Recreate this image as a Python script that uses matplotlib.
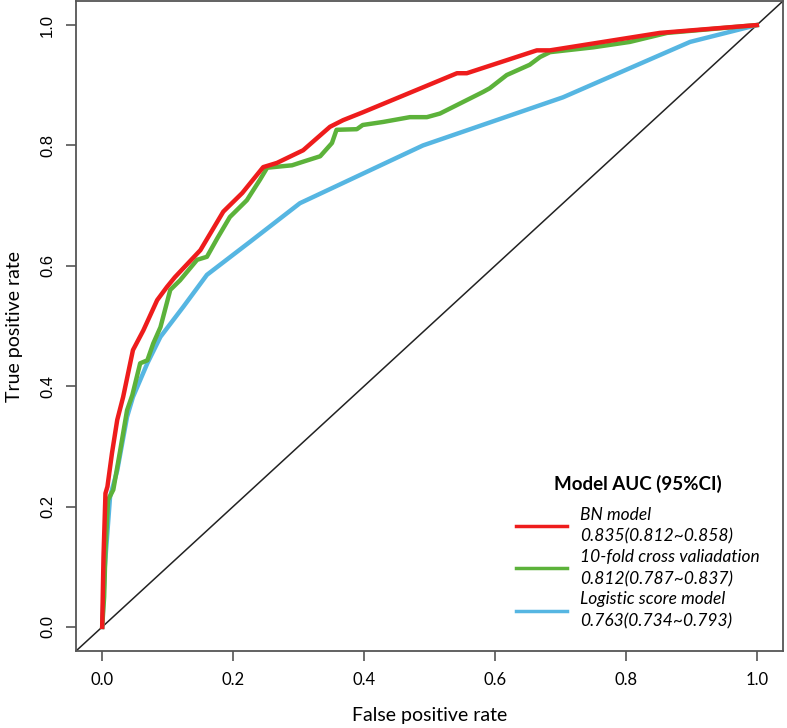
import numpy as np
import matplotlib.pyplot as plt
from matplotlib.lines import Line2D

# ROC curves
bn_fpr = [0, 0.002, 0.005, 0.008, 0.015, 0.023, 0.032, 0.047, 0.063, 0.084, 0.099,
          0.111, 0.15, 0.185, 0.214, 0.246, 0.267, 0.307, 0.348, 0.368, 0.398,
          0.542, 0.557, 0.664, 0.684, 0.852, 1.0]
bn_tpr = [0, 0.116, 0.222, 0.233, 0.289, 0.344, 0.382, 0.46, 0.493, 0.543, 0.565,
          0.581, 0.626, 0.69, 0.721, 0.764, 0.771, 0.792, 0.831, 0.842, 0.855,
          0.92, 0.92, 0.958, 0.958, 0.987, 1.0]

cv_fpr = [0, 0.003, 0.005, 0.009, 0.017, 0.027, 0.038, 0.046, 0.058, 0.069, 0.078,
          0.089, 0.104, 0.119, 0.145, 0.16, 0.176, 0.195, 0.221, 0.241, 0.252,
          0.29, 0.307, 0.333, 0.351, 0.358, 0.389, 0.398, 0.429, 0.47, 0.496,
          0.516, 0.582, 0.592, 0.618, 0.653, 0.669, 0.684, 0.75, 0.806, 0.863, 1.0]
cv_tpr = [0, 0.05, 0.128, 0.211, 0.228, 0.29, 0.36, 0.385, 0.438, 0.443, 0.471,
          0.498, 0.56, 0.576, 0.61, 0.615, 0.646, 0.681, 0.709, 0.743, 0.763,
          0.767, 0.773, 0.782, 0.804, 0.826, 0.827, 0.834, 0.839, 0.847, 0.847,
          0.853, 0.889, 0.895, 0.917, 0.934, 0.947, 0.955, 0.963, 0.972, 0.987, 1.0]

lg_fpr = [0, 0.004, 0.012, 0.023, 0.038, 0.047, 0.069, 0.089, 0.124, 0.16, 0.226,
          0.302, 0.49, 0.704, 0.898, 1.0]
lg_tpr = [0, 0.1, 0.216, 0.26, 0.349, 0.382, 0.438, 0.482, 0.532, 0.585, 0.64,
          0.704, 0.80, 0.88, 0.972, 1.0]

labels = ["BN model\n0.835(0.812~0.858)",
          "10-fold cross valiadation\n0.812(0.787~0.837)",
          "Logistic score model\n0.763(0.734~0.793)"]
colors = ["#ee1c1c", "#5cb23a", "#56b6e2"]
ticks = [0.0, 0.2, 0.4, 0.6, 0.8, 1.0]

fig = plt.figure(figsize=(7.87, 7.28), dpi=100)
ax = fig.add_axes([76/787, 77/728, 707/787, 650/728])

ax.axline((0, 0), slope=1, color="#222222", lw=1.1, zorder=1)
ax.plot(lg_fpr, lg_tpr, color=colors[2], lw=3.2, zorder=2)
ax.plot(cv_fpr, cv_tpr, color=colors[1], lw=3.2, zorder=3)
ax.plot(bn_fpr, bn_tpr, color=colors[0], lw=3.2, zorder=4)

ax.set_xlim(-0.04, 1.04)
ax.set_ylim(-0.04, 1.04)
ax.set_xticks(ticks)
ax.set_yticks(ticks)
ax.set_xticklabels([f"{t:.1f}" for t in ticks], family="Lato", fontsize=12)
ax.set_yticklabels([f"{t:.1f}" for t in ticks], family="Liberation Sans", fontsize=12,
                   rotation=90, va="center")
ax.tick_params(direction="out", length=7, width=1.2, color="#555555", pad=8)
for s in ax.spines.values():
    s.set_color("#555555")
    s.set_linewidth(1.3)

ax.set_xlabel("False positive rate", family="Lato", fontsize=14, labelpad=14)
ax.set_ylabel("True positive rate", family="Lato", fontsize=14, labelpad=12)

handles = [Line2D([], [], color=c, lw=2.5) for c in colors]
leg = ax.legend(handles, labels, loc="lower right", bbox_to_anchor=(0.98, 0.02),
                frameon=False, title="Model AUC (95%CI)", handlelength=2.9,
                handletextpad=0.8, labelspacing=0.25, borderpad=0,
                prop={"family": "Lato", "style": "italic", "size": 12.5})
for t in leg.get_texts():
    t.set_linespacing(1.45)
leg.get_title().set_fontfamily("Lato")
leg.get_title().set_fontweight("bold")
leg.get_title().set_fontsize(13.5)
leg._legend_box.sep = 10

fig.savefig("out.png", dpi=100)
